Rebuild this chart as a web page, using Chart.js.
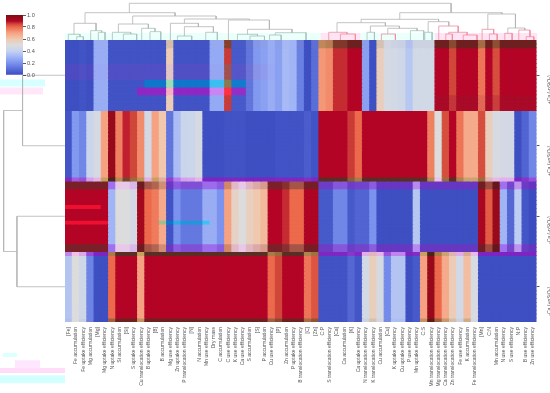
<!DOCTYPE html>
<html><head><meta charset="utf-8">
<script src="https://cdn.jsdelivr.net/npm/chart.js@4"></script>
<style>
html,body{margin:0;padding:0;background:#fff}
#w{position:relative;width:550px;height:393px;overflow:hidden}
canvas{position:absolute;left:0;top:0;filter:blur(.4px)}
</style></head><body>
<div id="w"><canvas id="tree" width="550" height="393"></canvas><canvas id="main" width="550" height="393"></canvas><canvas id="bar" width="60" height="85"></canvas></div>
<script>
const categories=["[Fe]","Fe accumulation","Fe uptake efficiency","Mg accumulation","[Mg]","Mg uptake efficiency","N uptake efficiency","Si accumulation","[Si]","S uptake efficiency","Cu translocation efficiency","B uptake efficiency","[B]","B accumulation","Mg use efficiency","Zn uptake efficiency","P translocation efficiency","[N]","N accumulation","Mn use efficiency","Dry mass","C accumulation","C use efficiency","K use efficiency","Ca use efficiency","S accumulation","[S]","P accumulation","Cu use efficiency","[P]","Zn accumulation","P uptake efficiency","B translocation efficiency","[C]","[Zn]","C:P","S translocation efficiency","[Ca]","Ca accumulation","[K]","Ca uptake efficiency","N translocation efficiency","K translocation efficiency","Cu accumulation","[Cu]","K uptake efficiency","Cu uptake efficiency","P use efficiency","Mn uptake efficiency","C:S","Mn translocation efficiency","Mg translocation efficiency","Ca translocation efficiency","Zn translocation efficiency","Fe use efficiency","K accumulation","Fe translocation efficiency","[Mn]","C:N","Mn accumulation","N use efficiency","S use efficiency","N:P","B use efficiency","Zn use efficiency"];
const groupLabels=["+Ca (-nSiO₂)","+Ca (+nSiO₂)","-Ca (-nSiO₂)","-Ca (+nSiO₂)"];
const caPlusNano0=[.01,.01,.02,.01,.28,.28,.02,.02,.02,.02,.02,.02,.02,.02,.58,.02,.02,.02,.02,.02,.27,.27,.86,.04,.04,.12,.22,.24,.28,.24,.32,.3,.15,.01,.1,.72,.74,.87,.87,.9,.9,.24,.01,.57,.47,.45,.44,.36,.45,.45,.45,.9,.9,.85,.9,.9,.9,.78,.9,.84,.9,.9,.9,.9,.9];
const caPlusNano1=[.03,.22,.17,.42,.47,.7,.95,.76,.88,.85,.74,.46,.7,.6,.12,.33,.42,.43,.47,.01,.01,.01,.02,.02,.02,.01,.01,.01,.01,.02,.02,.02,.02,.05,.02,.9,.9,.9,.9,.86,.8,.9,.9,.9,.9,.9,.9,.9,.9,.9,.76,.5,.84,.9,.78,.68,.68,.84,.57,.48,.46,.46,.01,.07,.17];
const caMinusNano0=[.9,.9,.9,.9,.9,.9,.3,.5,.5,.46,.93,.8,.77,.68,.02,.2,.13,.13,.13,.28,.28,.2,.7,.55,.5,.56,.6,.64,.9,.9,.87,.8,.8,.91,.91,.04,.04,.17,.17,.04,.07,.07,.2,.01,.01,.01,.01,.01,.36,.01,.01,.01,.01,.01,.01,.01,.01,.92,.82,.95,.3,.08,.38,.03,0];
const caMinusNano1=[.35,.5,.44,.16,.01,.01,.8,.9,.9,.9,.7,.9,.9,.9,.9,.9,.9,.9,.9,.9,.9,.9,.9,.9,.9,.9,.9,.9,.8,.85,.9,.9,.9,.78,.83,.02,.02,.02,.02,.08,.03,.45,.57,.47,.18,.35,.35,.01,.04,.7,.95,.8,.68,.58,.45,.63,.48,.01,.01,.01,.01,.01,.01,.01,.01];
const groupValues=[caPlusNano0,caPlusNano1,caMinusNano0,caMinusNano1];
const rowsPerGroup=18;
const linkRowSpan=36;
// palettes: value stops -> colour
const basePalette=[[0,'#3b4cc0'],[.1,'#5a6ed8'],[.2,'#7b92ee'],[.3,'#a0b4f6'],[.4,'#c5d3f0'],[.5,'#dcdcdc'],[.6,'#f0c8ae'],[.7,'#f6a282'],[.8,'#ec694c'],[.85,'#d0473a'],[.9,'#b40426'],[1,'#7a1010']];
const palettes={
 base:basePalette,
 dark:[[0,'#3b4cc0'],[.3,'#a0b4f6'],[.5,'#dcdcdc'],[.7,'#c89060'],[.85,'#8a4a30'],[.9,'#6e2020'],[1,'#501010']],
 purple:[[0,'#7a22c0'],[.3,'#b070f0'],[.5,'#f0c0e8'],[.7,'#c8a060'],[.85,'#9a6a3a'],[.9,'#5a2e22'],[1,'#3a1a10']],
 dim:[[0,'#6535c0'],[.3,'#a070f0'],[.5,'#e8c8e8'],[.7,'#d08868'],[.9,'#7a2028'],[1,'#501010']],
 azure:[[0,'#0a70c8'],[.3,'#40c8f8'],[.6,'#a0e0b0'],[.86,'#8a7a50'],[1,'#8a7a50']],
 violet:[[0,'#8a20c0'],[.3,'#d090f8'],[.6,'#f8b0c0'],[.86,'#ff3040'],[1,'#ff3040']],
 bright:[[0,'#3b4cc0'],[.5,'#dcdcdc'],[.9,'#ee1030'],[1,'#ee1030']],
 deep:[[0,'#3b4cc0'],[.5,'#dcdcdc'],[.8,'#e0604a'],[.9,'#a80a28'],[1,'#7a1010']],
 hint:[[0,'#4a48c0'],[.3,'#a0b0f8'],[.6,'#e8c8c0'],[1,'#7a1010']]
};
// row, first column, last column, palette
const rowStrips=[[0,0,64,'dark'],[1,0,64,'dark'],
 [6,0,28,'hint'],[7,0,28,'hint'],[8,0,28,'hint'],[9,0,28,'hint'],[10,11,24,'azure'],[11,11,24,'azure'],[12,10,24,'violet'],[13,10,24,'violet'],
 [14,51,64,'deep'],[15,51,64,'deep'],[16,51,64,'deep'],[17,51,64,'deep'],
 [35,0,64,'purple'],[36,0,64,'dim'],[37,0,64,'dim'],[42,0,4,'bright'],[46,0,5,'bright'],[46,13,19,'azure'],
 [52,0,64,'dim'],[53,0,64,'dim'],[54,0,64,'purple'],[71,0,64,'dark']];
// dendrogram links: left pos, left height, right pos, right height, join height
const linksUpper=[[8.37,27.3,52.73,27.3,36.7],[2.26,16.7,14.67,24,27.3],[.74,5.7,3.78,9.3,16.7],[8.83,16,20.33,21,24],[6.86,7.7,10.99,11.7,16],[15.96,16.7,24.93,20,21],[14.03,0,17.89,13.3,16.7],[15.96,4,19.96,7.7,13.3],[22.03,0,27.68,10.7,20],[24.65,5.7,30.8,7.3,10.7],[45.65,20.7,59.76,26,27.3],[40.32,17.3,51,18.3,20.7],[49.56,7.7,52.41,14,18.3],[37,7.7,43.67,14,17.3],[41.6,7.7,45.6,11.7,14],[44,6,48.04,9.3,11.7],[57.79,10.7,61.6,12,26],[60.55,6.7,62.89,10,12]];
const linksGreen=[[-.04,0,1.57,3.3,5.7],[1.11,0,2.03,0,3.3],[3.04,0,4.56,7.7,9.3],[4.1,0,5.02,0,7.7],[6.03,0,8.56,6,7.7],[7.55,0,9.38,0,6],[10.07,0,11.91,8.3,11.7],[11.22,0,12.7,0,8.3],[15,0,16.97,0,4],[18.9,0,20.5,0,7.7],[23.27,0,26.03,4,5.7],[25,0,27,0,4],[28.5,5,32.73,0,7.3],[27.7,0,29.3,0,5],[41.14,0,42.16,0,7.7],[47.12,0,48.96,0,9.3],[49.1,0,50.11,0,7.7]];
const linksPink=[[35.86,0,38.38,6,7.7],[37.47,0,39.53,0,6],[43.12,0,45.05,0,6],[51.03,0,53.7,7.7,14],[52.41,6,54.94,5,7.7],[52,0,52.9,0,6],[54.4,0,56.3,0,5],[57,0,58.6,6,10.7],[58,0,59.08,0,6],[60.13,0,61.14,0,6.7],[62.06,0,63.6,3.3,10],[63.08,0,64.13,0,3.3]];
const linksRows=[[9,42.4,27,48,61.3],[4.5,0,13.5,0,42.4],[22.5,0,31.5,0,48]];
// pale halo bands: start, end, position, colour, thickness
const topHalos=[[-.5,34.7,'#ebfffb'],[34.7,40.2,'#ffe4f4'],[40.2,50.5,'#ebfffb'],[50.5,64.6,'#ffe4f4'],[21.7,22.4,'#ffd8ec']];
const sideHalos=[[65,20,5.5,'#d6ffff',7],[65,22,6.5,'#ffe6f8',7],[62,48,40.2,'#dcffff',4],[50,25,41.4,'#ffe6ff',8],[65,0,42.2,'#ffdcf8',5],[65,0,43.3,'#d4ffff',8]];

function hex(c){return [1,3,5].map(i=>parseInt(c.substr(i,2),16));}
function colourOf(v,p){
 for(let i=1;i<p.length;i++){ if(v<=p[i][0]){
  const t=(v-p[i-1][0])/(p[i][0]-p[i-1][0]),a=hex(p[i-1][1]),b=hex(p[i][1]);
  return `rgb(${a.map((x,k)=>Math.round(x+(b[k]-x)*t)).join(',')})`; } }
 return p[p.length-1][1];
}
function paletteFor(row,col){
 for(const s of rowStrips) if(s[0]===row&&col>=s[1]&&col<=s[2]) return palettes[s[3]];
 return palettes.base;
}
const datasets=[];
groupValues.forEach((vals,g)=>{
 for(let k=0;k<rowsPerGroup;k++){
  const row=g*rowsPerGroup+k;
  datasets.push({type:'bar',stack:'cells',data:vals.map(()=>1),backgroundColor:vals.map((v,c)=>colourOf(v,paletteFor(row,c))),borderWidth:0,inflateAmount:.5,barPercentage:1,categoryPercentage:1});
 }
});
const gap={x:NaN,y:NaN};
function lineSet(data,colour,w,xId,yId,order){
 return {type:'line',data,borderColor:colour,borderWidth:w,pointRadius:0,xAxisID:xId,yAxisID:yId,clip:false,spanGaps:false,tension:0,fill:false,order,borderCapStyle:'butt'};
}
function topPath(ls){const o=[];ls.forEach(l=>o.push({x:l[0],y:l[1]},{x:l[0],y:l[4]},{x:l[2],y:l[4]},{x:l[2],y:l[3]},gap));return o;}
function sidePath(ls){const o=[];ls.forEach(l=>o.push({x:l[1],y:l[0]},{x:l[4],y:l[0]},{x:l[4],y:l[2]},{x:l[3],y:l[2]},gap));return o;}
const treeSets=[];
topHalos.forEach(h=>treeSets.push(lineSet([{x:h[1],y:3.5},{x:h[0],y:3.5}],h[2],7,'xd','yd',5)));
sideHalos.forEach(h=>treeSets.push(lineSet([{x:h[0],y:h[2]},{x:h[1],y:h[2]}],h[3],h[4],'xl','yrow',5)));
treeSets.push(lineSet(topPath(linksUpper),'#b4b4b4',.8,'xd','yd',1));
treeSets.push(lineSet(topPath(linksGreen),'#a4c2ba',.8,'xd','yd',1));
treeSets.push(lineSet(topPath(linksPink),'#f08ca0',.8,'xd','yd',1));
treeSets.push(lineSet(sidePath(linksRows),'#b4b4b4',.8,'xl','yrow',1));

const tickFont={family:'"Liberation Sans",Arial,sans-serif',size:5.05};
new Chart(document.getElementById('tree'),{
 type:'line',
 data:{datasets:treeSets},
 options:{responsive:false,animation:false,devicePixelRatio:1,
  layout:{padding:{left:65,top:40,right:13.5,bottom:71}},
  plugins:{legend:{display:false},tooltip:{enabled:false}},
  scales:{
   xd:{type:'linear',axis:'x',min:-.5,max:64.5,display:false},
   yd:{type:'linear',axis:'y',min:-282,max:0,display:false},
   xl:{type:'linear',axis:'x',min:-471,max:0,reverse:true,display:false},
   yrow:{type:'linear',axis:'y',reverse:true,min:0,max:linkRowSpan,display:false}
  }
 }
});
new Chart(document.getElementById('main'),{
 data:{labels:categories,datasets},
 options:{responsive:false,animation:false,devicePixelRatio:1,
  layout:{padding:{left:65,top:40,right:0,bottom:0}},
  plugins:{legend:{display:false},tooltip:{enabled:false}},
  scales:{
   x:{type:'category',stacked:true,offset:true,grid:{display:false,drawTicks:false},border:{display:false},
      ticks:{autoSkip:false,minRotation:90,maxRotation:90,padding:5,color:'#555',font:tickFont},
      afterFit(s){s.height=71;}},
   y:{type:'linear',stacked:true,reverse:true,min:0,max:rowsPerGroup*4,display:false},
   yr:{type:'category',axis:'y',position:'right',labels:groupLabels,offset:true,
      grid:{display:true,drawOnChartArea:false,offset:false,tickLength:3,tickColor:'#333',tickWidth:.8},border:{display:false},
      ticks:{autoSkip:false,minRotation:90,maxRotation:90,crossAlign:'far',padding:-33,color:'#555',font:tickFont},
      afterFit(s){s.width=13.5;}}
  }
 }
});
const barStops=basePalette;
new Chart(document.getElementById('bar'),{
 type:'bar',
 data:{labels:[''],datasets:[{data:[1],borderWidth:0,barPercentage:1,categoryPercentage:1,
  backgroundColor(c){const a=c.chart.chartArea;if(!a)return barStops[0][1];
   const g=c.chart.ctx.createLinearGradient(0,a.bottom,0,a.top);barStops.forEach(s=>g.addColorStop(s[0],s[1]));return g;}}]},
 options:{responsive:false,animation:false,devicePixelRatio:1,
  layout:{padding:{left:6,top:15,right:0,bottom:10}},
  plugins:{legend:{display:false},tooltip:{enabled:false}},
  scales:{x:{display:false,offset:true},
   y:{position:'right',min:0,max:1,grid:{drawOnChartArea:false,tickLength:3,tickColor:'#333',tickWidth:.8},border:{display:false},
      ticks:{stepSize:.2,padding:1,color:'#555',font:{family:tickFont.family,size:5.6},callback:v=>v.toFixed(1)},
      afterFit(s){s.width=37;}}}
 }
});
</script>
</body></html>
